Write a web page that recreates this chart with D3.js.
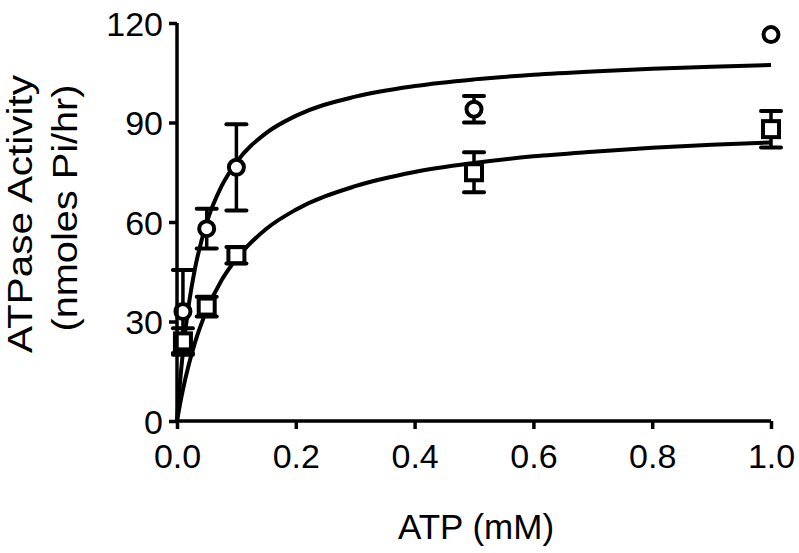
<!DOCTYPE html>
<html>
<head>
<meta charset="utf-8">
<script src="https://cdn.jsdelivr.net/npm/d3@7"></script>
<style>
  html, body { margin: 0; padding: 0; background: #fff; }
  svg { display: block; }
  text { font-family: "Liberation Sans", Arial, sans-serif; fill: #000; }
</style>
</head>
<body>
<svg id="chart" width="799" height="553"></svg>
<script>
// ---- data ----
const xTicks = [0.0, 0.2, 0.4, 0.6, 0.8, 1.0];
const yTicks = [0, 30, 60, 90, 120];

// circles series (upper)
const circleX   = [0.01, 0.05, 0.1, 0.5, 1.0];
const circleY   = [33, 58, 76.5, 94, 116.5];
const circleErr = [12.5, 6, 13, 4, 0];

// squares series (lower)
const squareX   = [0.01, 0.05, 0.1, 0.5, 1.0];
const squareY   = [24, 34.5, 50, 75, 88];
const squareErr = [4, 3, 2.5, 6, 5.5];

// fitted curves
const fitX       = [0, 0.005, 0.01, 0.02, 0.03, 0.05, 0.075, 0.1, 0.15, 0.2, 0.3, 0.4, 0.5, 0.6, 0.7, 0.8, 0.9, 1.0];
const fitCircleY = [0, 11.5, 20.9, 35.2, 45.7, 59.8, 70.8, 78.0, 86.8, 92.0, 97.8, 101.0, 103.0, 104.4, 105.4, 106.2, 106.8, 107.3];
const fitSquareY = [0, 5.0, 9.5, 17.1, 23.5, 33.4, 42.4, 48.9, 57.9, 63.7, 70.8, 75.1, 77.8, 79.8, 81.2, 82.4, 83.3, 84.0];

// ---- drawing ----
const svg = d3.select("#chart");
const x = d3.scaleLinear().domain([0, 1]).range([177, 771]);
const y = d3.scaleLinear().domain([0, 120]).range([421, 23]);

const line = d3.line().x(d => x(d[0])).y(d => y(d[1])).curve(d3.curveMonotoneX);

// fitted curves
[fitCircleY, fitSquareY].forEach(ys => {
  svg.append("path")
    .datum(fitX.map((v, i) => [v, ys[i]]))
    .attr("d", line)
    .attr("fill", "none")
    .attr("stroke", "#000")
    .attr("stroke-width", 4);
});

function errorBars(xs, ys, es) {
  const g = svg.append("g");
  xs.forEach((xv, i) => {
    if (es[i] <= 0) return;
    const cx = x(xv), top = y(ys[i] + es[i]), bot = y(ys[i] - es[i]);
    g.append("line").attr("x1", cx).attr("x2", cx).attr("y1", top).attr("y2", bot)
      .attr("stroke", "#000").attr("stroke-width", 3.5);
    [top, bot].forEach(yy => {
      g.append("line").attr("x1", cx - 10).attr("x2", cx + 10).attr("y1", yy).attr("y2", yy)
        .attr("stroke", "#000").attr("stroke-width", 4).attr("stroke-linecap", "round");
    });
  });
}
errorBars(circleX, circleY, circleErr);
errorBars(squareX, squareY, squareErr);

// circle markers
svg.append("g").selectAll("circle")
  .data(circleX.map((v, i) => [v, circleY[i]]))
  .join("circle")
  .attr("cx", d => x(d[0])).attr("cy", d => y(d[1])).attr("r", 7.5)
  .attr("fill", "#fff").attr("stroke", "#000").attr("stroke-width", 4);

// square markers
svg.append("g").selectAll("rect")
  .data(squareX.map((v, i) => [v, squareY[i]]))
  .join("rect")
  .attr("x", d => x(d[0]) - 8).attr("y", d => y(d[1]) - 8)
  .attr("width", 16).attr("height", 16)
  .attr("fill", "#fff").attr("stroke", "#000").attr("stroke-width", 4);

// axes
const xAxis = svg.append("g").attr("transform", "translate(0,421)")
  .call(d3.axisBottom(x).tickValues(xTicks).tickFormat(d3.format(".1f")).tickSize(8).tickPadding(15));
const yAxis = svg.append("g").attr("transform", "translate(177,0)")
  .call(d3.axisLeft(y).tickValues(yTicks).tickFormat(d3.format("d")).tickSize(8).tickPadding(6));

[xAxis, yAxis].forEach(a => {
  a.select(".domain").attr("stroke", "#000").attr("stroke-width", 3.5);
  a.selectAll(".tick line").attr("stroke", "#000").attr("stroke-width", 3.5);
  a.selectAll(".tick text").style("font-family", '"Liberation Sans", Arial, sans-serif')
    .style("font-size", "34px").attr("fill", "#000");
});
xAxis.select(".domain").attr("d", "M" + x(0) + ",0H" + x(1));
yAxis.select(".domain").attr("d", "M0," + y(0) + "V" + y(120));
yAxis.selectAll(".tick text").attr("dy", "0.36em");

// axis titles
svg.append("text").attr("x", 476).attr("y", 539).attr("text-anchor", "middle")
  .style("font-size", "35px").text("ATP (mM)");

svg.append("text").attr("transform", "translate(32,214) rotate(-90)").attr("text-anchor", "middle")
  .attr("textLength", 278).attr("lengthAdjust", "spacingAndGlyphs")
  .style("font-size", "35px").text("ATPase Activity");
svg.append("text").attr("transform", "translate(77,208) rotate(-90)").attr("text-anchor", "middle")
  .attr("textLength", 247).attr("lengthAdjust", "spacingAndGlyphs")
  .style("font-size", "35px").text("(nmoles Pi/hr)");
</script>
</body>
</html>
